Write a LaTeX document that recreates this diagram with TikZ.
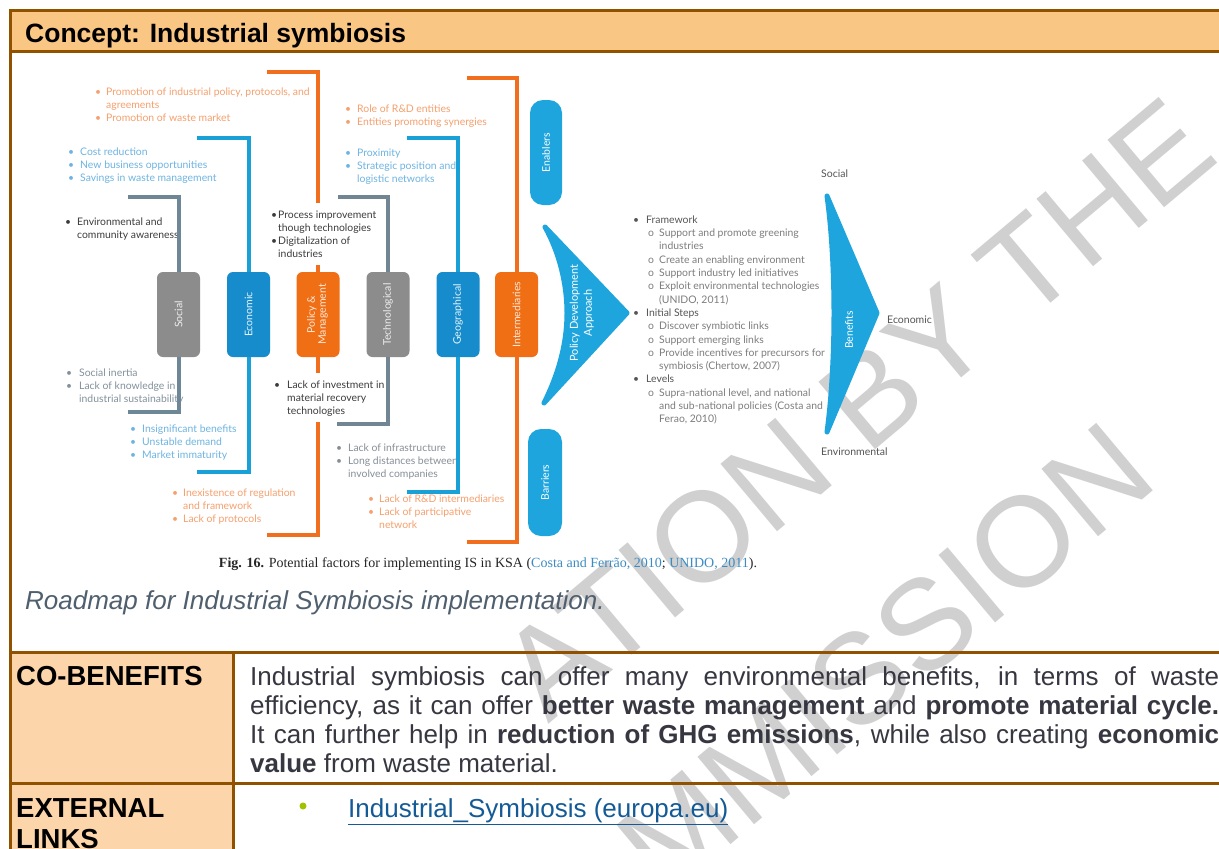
\documentclass[tikz,border=0pt]{standalone}
\usepackage{fontspec}
\setmainfont{Liberation Sans}
\newfontfamily\figfont{Lato}
\newfontfamily\serfont{Liberation Serif}
\usetikzlibrary{calc}

\definecolor{brownline}{RGB}{145,82,0}
\definecolor{titlefill}{RGB}{249,198,132}
\definecolor{cellfill}{RGB}{252,214,170}
\definecolor{boxblue}{RGB}{22,140,204}
\definecolor{arrowblue}{RGB}{30,165,222}
\definecolor{boxorange}{RGB}{240,110,20}
\definecolor{boxgray}{RGB}{140,140,140}
\definecolor{slateline}{RGB}{110,135,150}
\definecolor{blueline}{RGB}{25,160,215}
\definecolor{orangeline}{RGB}{240,110,30}
\definecolor{txtorange}{RGB}{245,160,110}
\definecolor{txtblue}{RGB}{110,180,225}
\definecolor{txtdark}{RGB}{60,60,60}
\definecolor{txtslate}{RGB}{130,145,155}
\definecolor{txtgray}{RGB}{135,143,150}
\definecolor{headgray}{RGB}{85,85,85}
\definecolor{subgray}{RGB}{125,125,125}
\definecolor{citeblue}{RGB}{60,140,195}
\definecolor{roadgray}{RGB}{80,95,110}
\definecolor{bodytext}{RGB}{55,55,65}
\definecolor{linkblue}{RGB}{20,90,150}
\definecolor{bulletgreen}{RGB}{160,195,0}
\definecolor{wmgray}{RGB}{208,208,208}

\newcommand\sm{\figfont\fontsize{10.4}{13.3}\selectfont}
\newcommand\bu{\makebox[12pt][l]{\textbullet}}
\newcommand\ct{\hspace*{12pt}}
\newcommand\ttlfont{\bfseries\fontsize{26.5}{30}\selectfont}
\newcommand\labfont{\bfseries\fontsize{27.5}{31}\selectfont}
\newcommand\bdyfont{\fontsize{26}{29.3}\selectfont}

\begin{document}
\begin{tikzpicture}[x=1pt,y=-1pt,
  factorbox/.style={rounded corners=6pt, minimum width=43pt, minimum height=85pt,
    inner sep=0pt, font=\figfont\fontsize{10.5}{12}\selectfont, align=center},
  sidebox/.style={rounded corners=13pt, inner sep=0pt, fill=arrowblue, text=white,
    font=\figfont\fontsize{10.5}{12}\selectfont},
  blk/.style={anchor=north west, inner sep=0pt, align=left, font=\sm},
  brk/.style={line width=4pt, line join=miter},
  axislbl/.style={anchor=west, inner sep=0pt, text=headgray, font=\figfont\fontsize{10.5}{12}\selectfont},
  wm/.style={text=wmgray, inner sep=0pt, font=\fontsize{128}{128}\selectfont},
  rule/.style={brownline, line width=3pt}
]
\useasboundingbox (0,0) rectangle (1219,849);
\fill[white] (0,0) rectangle (1219,849);

% ---------- watermark ----------
\begin{scope}
  \clip (0,0) rectangle (1219,849);
  \node[wm, rotate=40, anchor=base west] (wm1) at (548,725) {ATION BY THE};
  \node[wm, rotate=40, anchor=base west] (wm2) at (665,900) {MMISSION};
\end{scope}

% ---------- table frame ----------
\fill[titlefill] (10,10) rectangle (1219,51);
\fill[cellfill] (10,652) rectangle (233,849);
\draw[rule] (1219,10) -- (10,10) -- (10,849);
\draw[rule] (10,51) -- (1219,51);
\draw[rule] (10,652) -- (1219,652);
\draw[rule] (10,783) -- (1219,783);
\draw[rule] (233,652) -- (233,849);

\node[anchor=base west, inner sep=0pt, font=\ttlfont] (title) at (25,42) {Concept: Industrial symbiosis};

% ---------- factor boxes ----------
\node[factorbox, fill=boxgray, text=white!85!boxgray] (soc) at (178.5,314.5) {\rotatebox{90}{Social}};
\node[factorbox, fill=boxblue, text=white!90!boxblue] (eco) at (248.5,314.5) {\rotatebox{90}{Economic}};
\node[factorbox, fill=boxorange, text=white!85!boxorange] (pol) at (318,314.5) {\rotatebox{90}{\begin{tabular}{@{}c@{}}Policy \&\\[-1pt]Management\end{tabular}}};
\node[factorbox, fill=boxgray, text=white!85!boxgray] (tec) at (388,314.5) {\rotatebox{90}{Technological}};
\node[factorbox, fill=boxblue, text=white!90!boxblue] (geo) at (458,314.5) {\rotatebox{90}{Geographical}};
\node[factorbox, fill=boxorange, text=white!85!boxorange] (itm) at (516.5,314.5) {\rotatebox{90}{Intermediaries}};

\node[sidebox, minimum width=32pt, minimum height=105pt] (enab) at (546,152.5) {\rotatebox{90}{Enablers}};
\node[sidebox, minimum width=34pt, minimum height=107pt] (barr) at (545,482.5) {\rotatebox{90}{Barriers}};

% ---------- factor texts ----------
\node[blk, text=txtorange] (t1) at (95,87.5) {\makebox[11pt][l]{\textbullet}Promotion of industrial policy, protocols, and\\\hspace*{11pt}agreements\\\makebox[11pt][l]{\textbullet}Promotion of waste market};
\node[blk, text=txtblue] (t2) at (68,147.5) {\bu Cost reduction\\\bu New business opportunities\\\bu Savings in waste management};
\node[blk, text=txtdark] (t3) at (65,217.5) {\bu Environmental and\\\ct community awareness};
\node[blk, text=txtdark, font=\figfont\fontsize{10.4}{13}\selectfont] (t4) at (271,210.5) {\makebox[7pt][l]{\textbullet}Process improvement\\\hspace*{7pt}though technologies\\\makebox[7pt][l]{\textbullet}Digitalization of\\\hspace*{7pt}industries};
\node[blk, text=txtorange] (t5) at (345,104.5) {\bu Role of R\&D entities\\\bu Entities promoting synergies};
\node[blk, text=txtblue] (t6) at (345,148.5) {\bu Proximity\\\bu Strategic position and\\\ct logistic networks};
\node[blk, text=txtslate] (t7) at (66,368.5) {\makebox[13pt][l]{\textbullet}Social inertia\\\makebox[13pt][l]{\textbullet}Lack of knowledge in\\\hspace*{13pt}industrial sustainability};
\node[blk, text=txtdark] (t8) at (274,380.5) {\makebox[13pt][l]{\textbullet}Lack of investment in\\\hspace*{13pt}material recovery\\\hspace*{13pt}technologies};
\node[blk, text=txtblue] (t9) at (130,424.5) {\bu Insignificant benefits\\\bu Unstable demand\\\bu Market immaturity};
\node[blk, text=txtorange] (t10) at (172,488.5) {\makebox[11pt][l]{\textbullet}Inexistence of regulation\\\hspace*{11pt}and framework\\\makebox[11pt][l]{\textbullet}Lack of protocols};
\node[blk, text=txtgray] (t11) at (336,443.5) {\bu Lack of infrastructure\\\bu Long distances between\\\ct involved companies};
\node[blk, text=txtorange] (t12) at (368,494.5) {\makebox[11pt][l]{\textbullet}Lack of R\&D intermediaries\\\makebox[11pt][l]{\textbullet}Lack of participative\\\hspace*{11pt}network};

% ---------- brackets from each factor ----------
\draw[brk, slateline] (soc.north) |- (128,197);
\draw[brk, slateline] (soc.south) |- (128,412);
\draw[brk, blueline] (eco.north) |- (197,138);
\draw[brk, blueline] (eco.south) |- (197,472);
\draw[brk, orangeline] (pol.north) -- ++(0,-7);
\coordinate (polup) at (318,203);
\draw[brk, orangeline] (polup) |- (267,72);
\draw[brk, orangeline] (pol.south) -- ++(0,16);
\coordinate (poldown) at (318,422);
\draw[brk, orangeline] (poldown) |- (267,535);
\draw[brk, slateline!80!gray] (tec.north) |- (338,197);
\draw[brk, slateline!80!gray] (tec.south) |- (337,424);
\draw[brk, blueline] (geo.north) |- (407,138);
\draw[brk, blueline] (geo.south) |- (407,492);
\draw[brk, orangeline] (itm.north) |- (467,78);
\draw[brk, orangeline] (itm.south) |- (467,542);

% ---------- policy development approach ----------
\filldraw[arrowblue, line width=5pt, line join=round]
  (545,227) -- (627,313) -- (544,403)
  .. controls (558,375) and (567,345) .. (567,313)
  .. controls (567,283) and (559,252) .. (545,227) -- cycle;
\node[text=white, inner sep=0pt, font=\figfont\fontsize{11}{14}\selectfont] (pda) at (582,313)
  {\rotatebox{90}{\begin{tabular}{@{}c@{}}Policy Development\\Approach\end{tabular}}};

\node[blk, font=\figfont\fontsize{10.4}{13.3}\selectfont] (plist) at (633,215.5) {%
  \textcolor{headgray}{\makebox[13pt][l]{\textbullet}Framework}\\
  \textcolor{subgray}{\hspace*{15pt}\makebox[11pt][l]{o}Support and promote greening}\\
  \textcolor{subgray}{\hspace*{26pt}industries}\\
  \textcolor{subgray}{\hspace*{15pt}\makebox[11pt][l]{o}Create an enabling environment}\\
  \textcolor{subgray}{\hspace*{15pt}\makebox[11pt][l]{o}Support industry led initiatives}\\
  \textcolor{subgray}{\hspace*{15pt}\makebox[11pt][l]{o}Exploit environmental technologies}\\
  \textcolor{subgray}{\hspace*{26pt}(UNIDO, 2011)}\\
  \textcolor{headgray}{\makebox[13pt][l]{\textbullet}Initial Steps}\\
  \textcolor{subgray}{\hspace*{15pt}\makebox[11pt][l]{o}Discover symbiotic links}\\
  \textcolor{subgray}{\hspace*{15pt}\makebox[11pt][l]{o}Support emerging links}\\
  \textcolor{subgray}{\hspace*{15pt}\makebox[11pt][l]{o}Provide incentives for precursors for}\\
  \textcolor{subgray}{\hspace*{26pt}symbiosis (Chertow, 2007)}\\
  \textcolor{headgray}{\makebox[13pt][l]{\textbullet}Levels}\\
  \textcolor{subgray}{\hspace*{15pt}\makebox[11pt][l]{o}Supra-national level, and national}\\
  \textcolor{subgray}{\hspace*{26pt}and sub-national policies (Costa and}\\
  \textcolor{subgray}{\hspace*{26pt}Ferao, 2010)}};

% ---------- benefits ----------
\filldraw[arrowblue, line width=5pt, line join=round]
  (827,196) -- (877,313) -- (827,432)
  .. controls (832,395) and (834,350) .. (834,313)
  .. controls (834,276) and (832,232) .. (827,196) -- cycle;
\node[text=white, inner sep=0pt, font=\figfont\fontsize{10.5}{12}\selectfont] (ben) at (849,330) {\rotatebox{90}{Benefits}};
\node[axislbl] (lsoc) at (821,174) {Social};
\node[axislbl] (leco) at (887,320) {Economic};
\node[axislbl] (lenv) at (821,452) {Environmental};

% ---------- captions ----------
\node[anchor=base, inner sep=0pt, text=black!85, font=\serfont\fontsize{14}{16}\selectfont] (figcap) at (488,567)
  {\textbf{Fig. 16.} Potential factors for implementing IS in KSA (\textcolor{citeblue}{Costa and Ferrão, 2010}; \textcolor{citeblue}{UNIDO, 2011}).};
\node[anchor=base west, inner sep=0pt, text=roadgray, font=\itshape\fontsize{26}{30}\selectfont] (road) at (25,609)
  {Roadmap for Industrial Symbiosis implementation.};

% ---------- table rows ----------
\node[anchor=base west, inner sep=0pt, font=\labfont] (cob) at (16,685) {CO-BENEFITS};
\node[anchor=base west, inner sep=0pt, text=bodytext] (cobtxt) at (250,685) {\parbox[t]{969pt}{\bdyfont
  Industrial symbiosis can offer many environmental benefits, in terms of waste\linebreak
  efficiency, as it can offer \textbf{better waste management} and \textbf{promote material cycle.}\linebreak
  It can further help in \textbf{reduction of GHG emissions}, while also creating \textbf{economic}\linebreak
  \textbf{value} from waste material.}};

\node[anchor=base west, inner sep=0pt] (ext) at (16,817) {\parbox[t]{212pt}{\labfont\raggedright EXTERNAL LINKS}};
\node[circle, fill=bulletgreen, inner sep=0pt, minimum size=7pt] (lbul) at (303,806) {};
\node[anchor=base west, inner sep=0pt, text=linkblue, font=\bdyfont] (link) at (348,817) {\underline{Industrial\_Symbiosis (europa.eu)}};
\end{tikzpicture}
\end{document}
